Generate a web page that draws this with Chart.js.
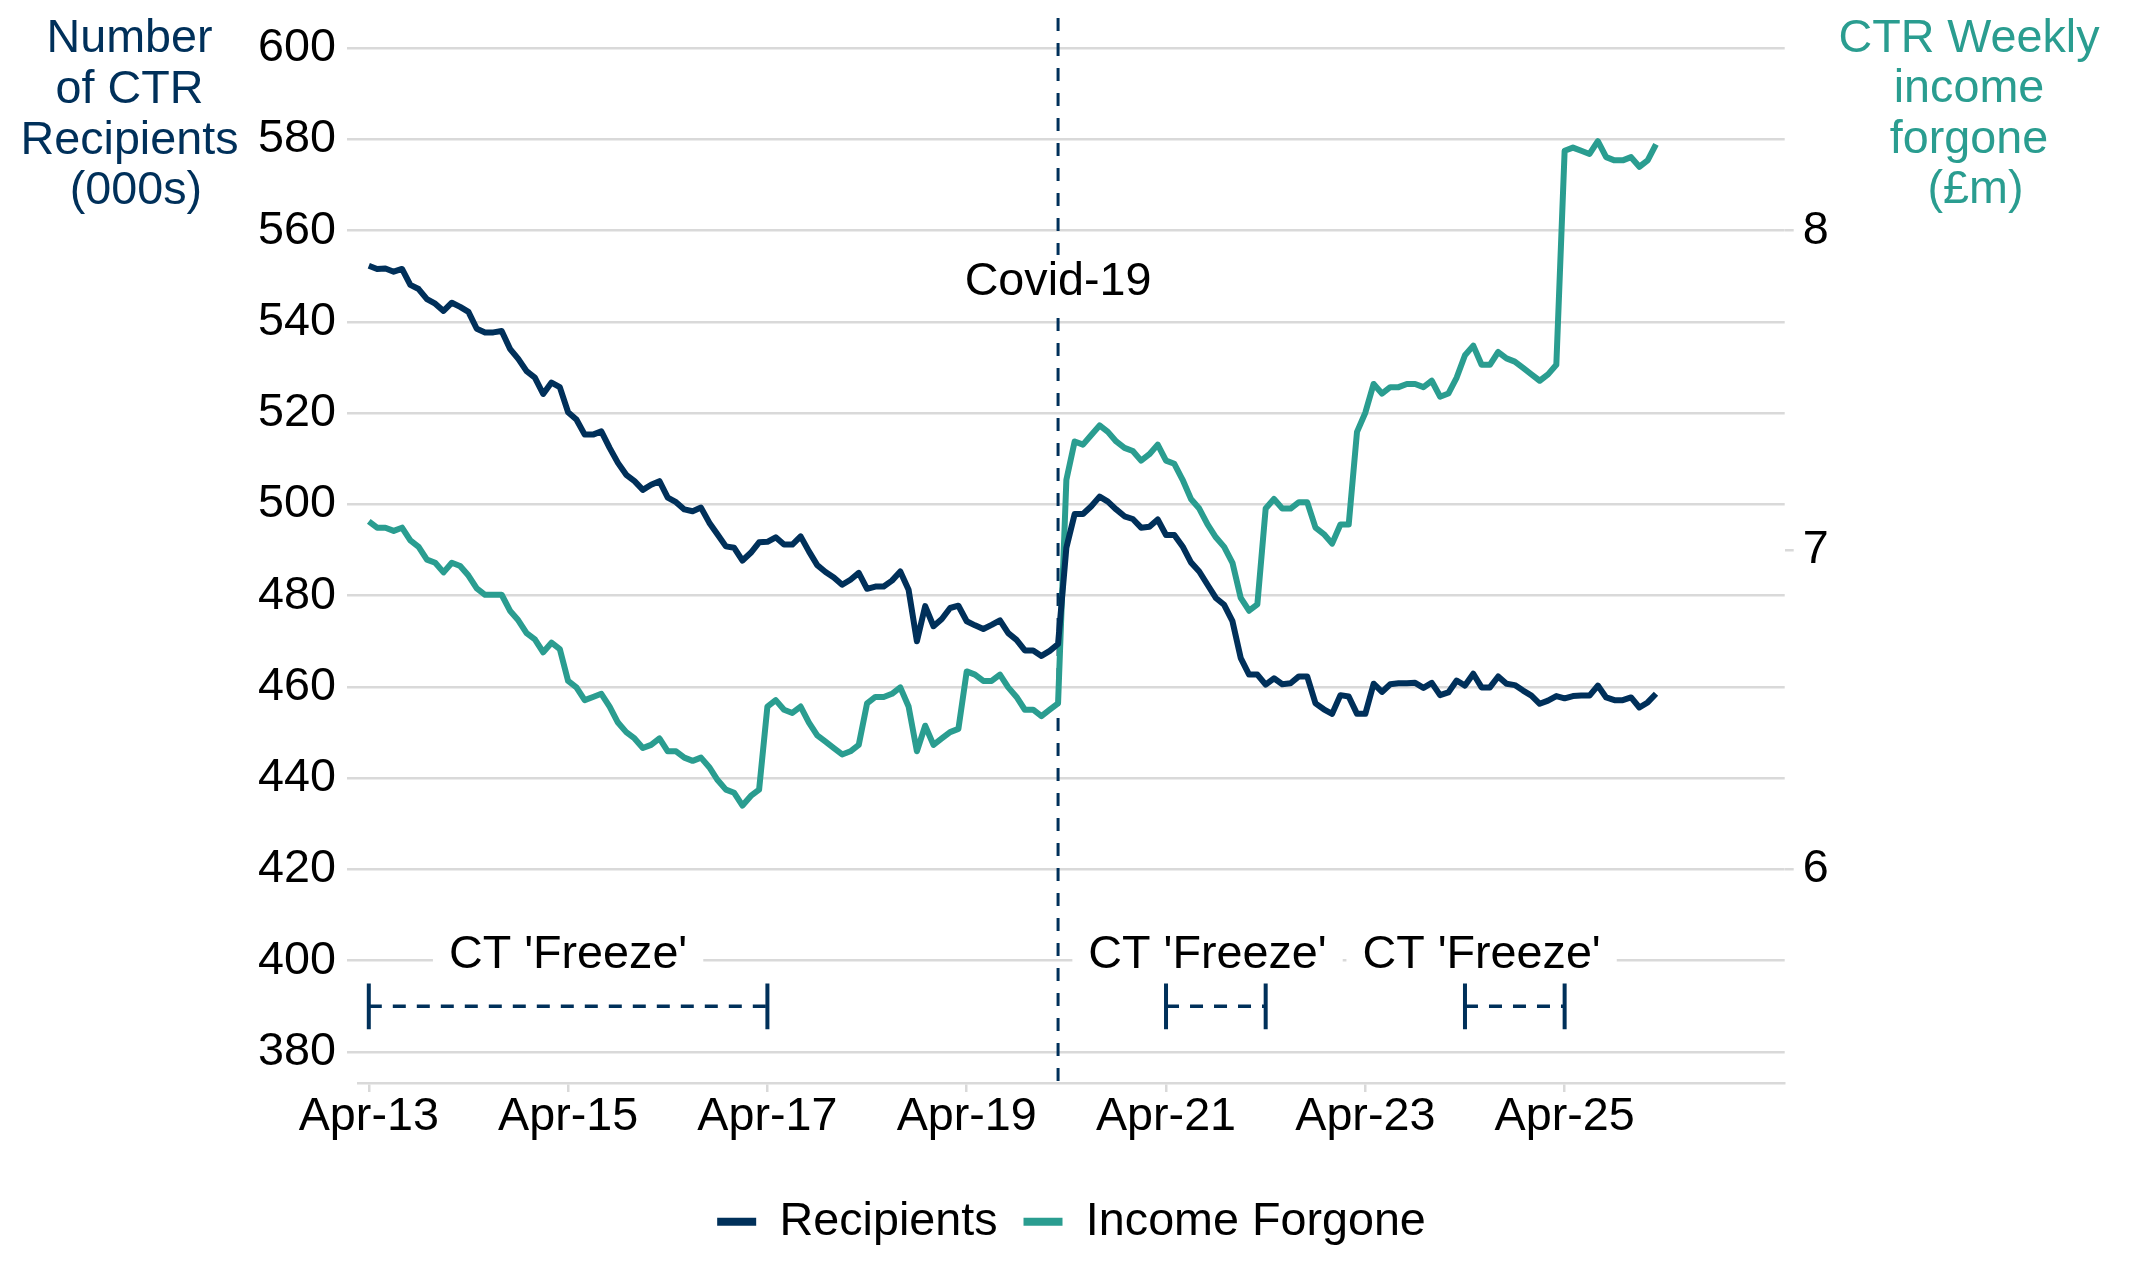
<!DOCTYPE html>
<html>
<head>
<meta charset="utf-8">
<title>CTR Recipients and Income Forgone</title>
<script src="https://cdn.jsdelivr.net/npm/chart.js@4.4.1/dist/chart.umd.min.js"></script>
<style>
    html, body { margin: 0; padding: 0; background: #ffffff; }
    canvas { display: block; }
</style>
</head>
<body>
<canvas id="grafico" width="2133" height="1280"></canvas>
<script>
// Dados mensais (Apr-13 até Mar-26)
// Número de beneficiários do CTR (milhares)
const beneficiarios = [
    552.3, 551.6, 551.7, 551.0, 551.6, 548.1, 547.2, 545.0, 544.0,
    542.4, 544.2, 543.3, 542.2, 538.5, 537.7, 537.7, 538.0, 534.1, 531.9, 529.2, 527.8,
    524.2, 526.7, 525.7, 520.2, 518.6, 515.3, 515.3, 516.0, 512.4, 509.1, 506.5, 505.1,
    503.2, 504.3, 505.1, 501.5, 500.5, 498.9, 498.5, 499.3, 496.0, 493.4, 490.8, 490.5,
    487.7, 489.4, 491.7, 491.8, 492.8, 491.2, 491.2, 493.0, 489.7, 486.7, 485.2, 484.0,
    482.4, 483.5, 485.0, 481.5, 482.0, 482.0, 483.3, 485.3, 481.3, 470.0, 477.7, 473.3,
    474.9, 477.3, 477.8, 474.4, 473.5, 472.7, 473.6, 474.6, 471.8, 470.3, 468.0, 468.0,
    466.8, 467.9, 469.4, 490.5, 497.9, 497.9, 499.6, 501.7, 500.6, 498.9, 497.4, 496.8,
    494.9, 495.1, 496.7, 493.3, 493.3, 490.8, 487.3, 485.3, 482.4, 479.5, 478.0, 474.4,
    466.3, 462.7, 462.7, 460.5, 461.9, 460.6, 460.8, 462.3, 462.3, 456.4, 455.1, 454.1,
    458.2, 457.9, 454.1, 454.1, 460.7, 458.9, 460.6, 460.8, 460.8, 460.9, 459.8, 460.9,
    458.2, 458.8, 461.4, 460.3, 462.9, 459.9, 459.9, 462.3, 460.7, 460.4, 459.2, 458.1,
    456.3, 457.0, 458.0, 457.5, 458.0, 458.1, 458.1, 460.3, 457.7, 457.1, 457.1, 457.7,
    455.5, 456.6, 458.5
];

// Renda semanal renunciada do CTR (£m)
const rendaRenunciada = [
    7.09, 7.07, 7.07, 7.06, 7.07, 7.03, 7.01, 6.97, 6.96,
    6.93, 6.96, 6.95, 6.92, 6.88, 6.86, 6.86, 6.86, 6.81, 6.78, 6.74, 6.72,
    6.68, 6.71, 6.69, 6.59, 6.57, 6.53, 6.54, 6.55, 6.51, 6.46, 6.43, 6.41,
    6.38, 6.39, 6.41, 6.37, 6.37, 6.35, 6.34, 6.35, 6.32, 6.28, 6.25, 6.24,
    6.20, 6.23, 6.25, 6.51, 6.53, 6.50, 6.49, 6.51, 6.46, 6.42, 6.40, 6.38,
    6.36, 6.37, 6.39, 6.52, 6.54, 6.54, 6.55, 6.57, 6.51, 6.37, 6.45, 6.39,
    6.41, 6.43, 6.44, 6.62, 6.61, 6.59, 6.59, 6.61, 6.57, 6.54, 6.50, 6.50,
    6.48, 6.50, 6.52, 7.22, 7.34, 7.33, 7.36, 7.39, 7.37, 7.34, 7.32, 7.31,
    7.28, 7.30, 7.33, 7.28, 7.27, 7.22, 7.16, 7.13, 7.08, 7.04, 7.01, 6.96,
    6.85, 6.81, 6.83, 7.13, 7.16, 7.13, 7.13, 7.15, 7.15, 7.07, 7.05, 7.02,
    7.08, 7.08, 7.37, 7.43, 7.52, 7.49, 7.51, 7.51, 7.52, 7.52, 7.51, 7.53,
    7.48, 7.49, 7.54, 7.61, 7.64, 7.58, 7.58, 7.62, 7.60, 7.59, 7.57, 7.55,
    7.53, 7.55, 7.58, 8.25, 8.26, 8.25, 8.24, 8.28, 8.23, 8.22, 8.22, 8.23,
    8.20, 8.22, 8.27
];

// Rótulos e ticks dos eixos
const rotulosEixoX = ["Apr-13", "Apr-15", "Apr-17", "Apr-19", "Apr-21", "Apr-23", "Apr-25"];
const ticksEsquerda = [380, 400, 420, 440, 460, 480, 500, 520, 540, 560, 580, 600];
const ticksDireita = [6, 7, 8];

const tituloEsquerda = ["Number", "of CTR", "Recipients", " (000s)"];
const tituloDireita = ["CTR Weekly", "income", "forgone", " (£m)"];

// Anotações
const mesCovid = "Mar-20";
const textoCovid = "Covid-19";
const congelamentoInicio = ["Apr-13", "Apr-21", "Apr-24"];
const congelamentoFim = ["Apr-17", "Apr-22", "Apr-25"];
const congelamentoRotulo = ["Apr-15", "Sep-21", "Jun-24"];
const textoCongelamento = "CT 'Freeze'";

// monta a lista de meses (Apr-13 ... Mar-26)
const nomesMeses = ["Jan", "Feb", "Mar", "Apr", "May", "Jun", "Jul", "Aug", "Sep", "Oct", "Nov", "Dec"];
const meses = [];
for (let i = 0; i < beneficiarios.length; i++) {
    const m = 3 + i;
    meses.push(nomesMeses[m % 12] + "-" + (13 + Math.floor(m / 12)));
}

const AZUL = "#00305a";
const VERDE = "#2a9d90";
const CINZA = "#d9d9d9";
const FONTE = "'Liberation Sans', Arial, sans-serif";
const TAM = 46.7;

Chart.defaults.font.family = FONTE;
Chart.defaults.font.size = TAM;
Chart.defaults.color = "#000000";

// Plugin para a linha da Covid, os períodos de 'Freeze' e os títulos dos eixos
const anotacoes = {
    id: "anotacoes",
    beforeDatasetsDraw(chart) {
        const { ctx, chartArea, scales } = chart;
        const xc = scales.x.getPixelForValue(meses.indexOf(mesCovid));
        ctx.save();
        ctx.strokeStyle = AZUL;
        ctx.lineWidth = 3;
        ctx.setLineDash([13, 12]);
        ctx.beginPath();
        ctx.moveTo(xc, chartArea.top);
        ctx.lineTo(xc, chartArea.bottom);
        ctx.stroke();
        ctx.restore();
    },
    afterDatasetsDraw(chart) {
        const { ctx, scales } = chart;
        const x = scales.x;
        const y = scales.y;
        ctx.save();
        ctx.font = TAM + "px " + FONTE;
        ctx.textAlign = "center";
        ctx.textBaseline = "alphabetic";

        // rótulo Covid-19
        const xc = x.getPixelForValue(meses.indexOf(mesCovid));
        const yc = y.getPixelForValue(545.9);
        const wc = ctx.measureText(textoCovid).width;
        ctx.fillStyle = "#ffffff";
        ctx.fillRect(xc - wc / 2 - 6, yc - 40, wc + 12, 52);
        ctx.fillStyle = "#000000";
        ctx.fillText(textoCovid, xc, yc);

        // períodos de congelamento
        congelamentoInicio.forEach((ini, i) => {
            const x1 = x.getPixelForValue(meses.indexOf(ini));
            const x2 = x.getPixelForValue(meses.indexOf(congelamentoFim[i]));
            const yl = y.getPixelForValue(390);
            const yt = y.getPixelForValue(395);
            const yb = y.getPixelForValue(385);

            ctx.strokeStyle = AZUL;
            ctx.setLineDash([]);
            ctx.lineWidth = 4;
            ctx.beginPath();
            ctx.moveTo(x1, yt);
            ctx.lineTo(x1, yb);
            ctx.moveTo(x2, yt);
            ctx.lineTo(x2, yb);
            ctx.stroke();

            ctx.lineWidth = 3.5;
            ctx.setLineDash([13, 11]);
            ctx.beginPath();
            ctx.moveTo(x1, yl);
            ctx.lineTo(x2, yl);
            ctx.stroke();

            const xt = x.getPixelForValue(meses.indexOf(congelamentoRotulo[i]));
            const ytx = y.getPixelForValue(398.3);
            const w = ctx.measureText(textoCongelamento).width;
            ctx.fillStyle = "#ffffff";
            ctx.fillRect(xt - w / 2 - 16, ytx - 40, w + 32, 52);
            ctx.fillStyle = "#000000";
            ctx.fillText(textoCongelamento, xt, ytx);
        });
        ctx.restore();
    },
    afterDraw(chart) {
        const ctx = chart.ctx;
        ctx.save();
        ctx.font = TAM + "px " + FONTE;
        ctx.textAlign = "center";
        ctx.textBaseline = "alphabetic";
        ctx.fillStyle = AZUL;
        tituloEsquerda.forEach((linha, i) => ctx.fillText(linha, 129.5, 52.3 + i * 50.6));
        ctx.fillStyle = VERDE;
        tituloDireita.forEach((linha, i) => ctx.fillText(linha, 1969, 51.7 + i * 50.5));
        ctx.restore();
    }
};

const ctx = document.getElementById("grafico").getContext("2d");

const grafico = new Chart(ctx, {
    type: "line",
    data: {
        datasets: [
            {
                label: "Recipients",
                data: beneficiarios.map((v, i) => ({ x: i, y: v })),
                yAxisID: "y",
                borderColor: AZUL,
                backgroundColor: AZUL,
                borderWidth: 6,
                pointRadius: 0,
                tension: 0,
                borderJoinStyle: "round"
            },
            {
                label: "Income Forgone",
                data: rendaRenunciada.map((v, i) => ({ x: i, y: v })),
                yAxisID: "y2",
                borderColor: VERDE,
                backgroundColor: VERDE,
                borderWidth: 6,
                pointRadius: 0,
                tension: 0,
                borderJoinStyle: "round"
            }
        ]
    },
    options: {
        responsive: false,
        animation: false,
        events: [],
        layout: {
            padding: { left: 10, right: 0, top: 18, bottom: 24.8 }
        },
        scales: {
            x: {
                type: "linear",
                min: -1.3,
                max: 170.5,
                afterBuildTicks: (s) => {
                    s.ticks = rotulosEixoX.map(r => ({ value: meses.indexOf(r) }));
                },
                afterFit: (s) => {
                    s.height = 89.5;
                    s.paddingLeft = 0;
                    s.paddingRight = 0;
                },
                ticks: {
                    autoSkip: false,
                    maxRotation: 0,
                    padding: 1.5,
                    font: { size: TAM, lineHeight: 1 },
                    color: "#000000",
                    callback: (v) => meses[v]
                },
                grid: {
                    drawOnChartArea: false,
                    drawTicks: true,
                    tickLength: 9,
                    color: CINZA,
                    lineWidth: 2.5
                },
                border: { display: true, color: CINZA, width: 2.5 }
            },
            y: {
                type: "linear",
                position: "left",
                min: 373.2,
                max: 606.6,
                afterBuildTicks: (s) => {
                    s.ticks = ticksEsquerda.map(v => ({ value: v }));
                },
                afterFit: (s) => {
                    s.width = 348;
                    s.paddingTop = 0;
                    s.paddingBottom = 0;
                },
                ticks: {
                    padding: 11,
                    font: { size: TAM, lineHeight: 1 },
                    color: "#000000"
                },
                grid: {
                    color: CINZA,
                    lineWidth: 2.5,
                    tickLength: 11
                },
                border: { display: false }
            },
            y2: {
                type: "linear",
                position: "right",
                min: 5.3314,
                max: 8.6657,
                afterBuildTicks: (s) => {
                    s.ticks = ticksDireita.map(v => ({ value: v }));
                },
                afterFit: (s) => {
                    s.width = 348.3;
                    s.paddingTop = 0;
                    s.paddingBottom = 0;
                },
                ticks: {
                    padding: 9,
                    font: { size: TAM, lineHeight: 1 },
                    color: "#000000"
                },
                grid: {
                    drawOnChartArea: false,
                    color: CINZA,
                    lineWidth: 2.5,
                    tickLength: 9
                },
                border: { display: false }
            }
        },
        plugins: {
            tooltip: { enabled: false },
            legend: {
                position: "bottom",
                align: "center",
                labels: {
                    boxWidth: 39,
                    boxHeight: 8,
                    padding: 26,
                    color: "#000000",
                    font: { size: TAM },
                    generateLabels: (chart) => chart.data.datasets.map((ds, i) => ({
                        text: ds.label,
                        fillStyle: ds.borderColor,
                        strokeStyle: ds.borderColor,
                        lineWidth: 0,
                        hidden: false,
                        datasetIndex: i
                    }))
                }
            }
        }
    },
    plugins: [anotacoes]
});
</script>
</body>
</html>
